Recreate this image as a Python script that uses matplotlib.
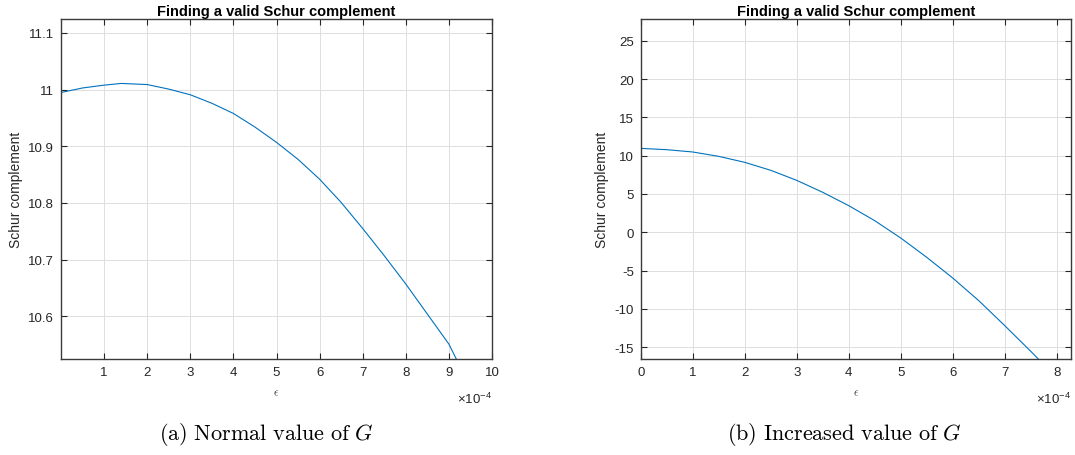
import numpy as np
import matplotlib
matplotlib.use("Agg")
from matplotlib import pyplot as plt
from matplotlib.ticker import FuncFormatter

plt.rcParams['font.family'] = ['Liberation Sans', 'DejaVu Sans']
plt.rcParams['mathtext.fontset'] = 'custom'
plt.rcParams['mathtext.rm'] = 'Liberation Sans'
plt.rcParams['mathtext.it'] = 'Liberation Sans:italic'

# (a) normal value of G  -- epsilon in units of 1e-4
eps_a = [0, 0.5, 1, 1.4, 2, 2.5, 3, 3.5, 4, 4.5, 5, 5.5, 6, 6.5, 7, 7.5, 8, 8.5, 9, 9.3]
schur_a = [10.995, 11.003, 11.008, 11.011, 11.009, 11.001, 10.991, 10.976, 10.958, 10.934,
           10.907, 10.877, 10.842, 10.801, 10.755, 10.707, 10.657, 10.604, 10.551, 10.505]

# (b) increased value of G
eps_b = [0, 0.5, 1, 1.5, 2, 2.5, 3, 3.5, 4, 4.5, 5, 5.5, 6, 6.5, 7, 7.5, 7.7]
schur_b = [10.95, 10.78, 10.48, 9.91, 9.13, 8.09, 6.78, 5.22, 3.48, 1.52,
           -0.74, -3.26, -5.96, -8.91, -12.17, -15.52, -16.9]

captions = [r'$\mathrm{(a)\ Normal\ value\ of\ }G$', r'$\mathrm{(b)\ Increased\ value\ of\ }G$']
title = "Finding a valid Schur complement"

line_col = '#0072BD'
ax_col = '#262626'

fig = plt.figure(figsize=(10.75, 4.56), dpi=100)
W, H = 1075.0, 456.0

def make_axes(x0, x1, y0, y1):
    return fig.add_axes([x0 / W, 1 - y1 / H, (x1 - x0) / W, (y1 - y0) / H])

ax1 = make_axes(61, 492, 20, 360)
ax2 = make_axes(640.7, 1071, 20, 360)

ax1.plot(np.array(eps_a) * 1e-4, schur_a, color=line_col, lw=0.8)
ax2.plot(np.array(eps_b) * 1e-4, schur_b, color=line_col, lw=0.8)

ax1.set_xlim(0, 10e-4)
ax1.set_ylim(10.5247, 11.1247)
ax1.set_xticks(np.arange(1, 11) * 1e-4)
ax1.set_yticks([10.6, 10.7, 10.8, 10.9, 11.0, 11.1])

ax2.set_xlim(0, 8.275e-4)
ax2.set_ylim(-16.53, 27.83)
ax2.set_xticks(np.arange(0, 9) * 1e-4)
ax2.set_yticks(np.arange(-15, 26, 5))

xfmt = FuncFormatter(lambda v, p: '%g' % round(v * 1e4, 6))
yfmt = FuncFormatter(lambda v, p: '%g' % round(v, 6))

centers = [266, 844.6]
for ax, cap, cx in zip([ax1, ax2], captions, centers):
    ax.xaxis.set_major_formatter(xfmt)
    ax.yaxis.set_major_formatter(yfmt)
    ax.grid(True, color='#dfdfdf', lw=0.7)
    ax.set_axisbelow(True)
    ax.tick_params(direction='in', top=True, right=True, length=4, width=0.8,
                   colors=ax_col, labelsize=9.5, pad=5)
    for s in ax.spines.values():
        s.set_color('#3a3a3a')
        s.set_linewidth(1.0)
    ax.set_title(title, fontsize=10.5, fontweight='bold', color='black', pad=3)
    ax.set_ylabel("Schur complement", fontsize=10, color=ax_col, labelpad=4)
    ax.set_xlabel(r'$\epsilon$', fontsize=8, color=ax_col, labelpad=7, math_fontfamily='cm')
    ax.text(1.0, -0.095, r'$\times$10$^{-4}$', transform=ax.transAxes, ha='right', va='top',
            fontsize=9.5, color=ax_col)
    fig.text(cx / W, 1 - 435 / H, cap, ha='center', va='center', fontsize=16,
             math_fontfamily='cm')

fig.savefig("out.png", dpi=100)
